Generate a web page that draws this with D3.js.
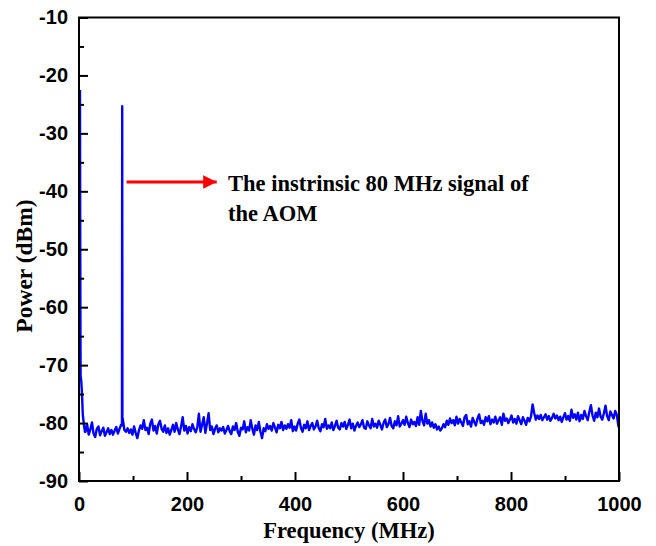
<!DOCTYPE html>
<html>
<head>
<meta charset="utf-8">
<script src="https://cdn.jsdelivr.net/npm/d3@7"></script>
<style>
html,body{margin:0;padding:0;background:#fff;}
svg{display:block;}
</style>
</head>
<body>
<svg id="chart" width="656" height="546"></svg>
<script>
// ---- data ----
const xTicks = [0, 200, 400, 600, 800, 1000];
const yTicks = [-90, -80, -70, -60, -50, -40, -30, -20, -10];
const xMinorTicks = [100, 300, 500, 700, 900];
const yMinorTicks = [-85, -75, -65, -55, -45, -35, -25, -15];

// low-frequency spike (DC) part of the trace
const dcFreq  = [1.8, 2.2, 2.6, 3, 4, 5, 6, 7, 9, 11];
const dcPower = [-22.5, -45, -62, -72, -72.5, -74, -76, -78.5, -80.2, -81.5];

// AOM 80 MHz spike
const aomFreq  = [79.6, 80, 80.4];
const aomPower = [-80.2, -25.3, -80.4];

// noise floor, sampled every 3 MHz starting at 12 MHz
const noiseStartMHz = 12;
const noiseStepMHz = 3;
const noisePower = [
-81.5,-80.2,-82.0,-81.1,-79.9,-81.8,-82.4,-81.0,-80.6,-82.1,
-81.4,-80.8,-82.2,-81.6,-80.9,-81.9,-81.2,-82.0,-81.3,-80.7,
-81.8,-81.0,-80.3,-79.2,-81.2,-81.5,-80.9,-81.7,-81.1,-82.0,
-80.6,-81.7,-82.6,-81.3,-80.4,-81.0,-79.5,-81.2,-80.8,-81.9,
-80.1,-79.4,-81.3,-80.5,-81.8,-80.2,-79.6,-81.0,-81.5,-80.4,
-81.7,-80.9,-82.0,-81.2,-80.3,-81.5,-80.0,-81.1,-81.9,-80.6,
-79.0,-81.3,-80.5,-81.8,-80.7,-81.4,-80.2,-81.0,-81.6,-80.8,
-78.4,-81.5,-80.3,-79.0,-81.7,-80.1,-78.3,-81.2,-80.6,-81.9,
-81.0,-80.4,-81.6,-80.9,-81.3,-80.7,-81.8,-81.2,-80.5,-81.4,
-81.9,-80.6,-81.2,-80.0,-81.5,-82.2,-80.8,-81.1,-79.7,-81.6,
-80.7,-81.3,-79.5,-81.0,-82.0,-80.4,-81.2,-79.8,-81.5,-82.6,
-80.9,-81.4,-80.2,-81.0,-80.5,-81.3,-80.0,-80.8,-81.6,-80.3,
-80.9,-79.8,-81.2,-80.4,-81.0,-80.2,-80.8,-79.5,-81.4,-80.6,
-81.3,-80.1,-79.4,-80.8,-81.5,-80.3,-80.9,-79.7,-81.2,-80.5,
-80.0,-81.1,-80.6,-79.6,-80.9,-81.4,-80.2,-80.7,-79.3,-81.0,
-80.4,-80.9,-79.9,-81.2,-80.5,-79.6,-80.8,-81.1,-80.0,-80.6,
-79.8,-81.0,-80.3,-79.4,-80.9,-80.1,-81.3,-80.5,-79.9,-80.7,
-80.2,-79.5,-80.8,-81.0,-79.7,-80.4,-80.9,-79.3,-80.6,-80.1,
-80.8,-79.6,-80.3,-81.1,-80.0,-79.4,-80.7,-80.2,-79.1,-80.5,
-80.9,-79.7,-80.4,-78.8,-80.6,-80.1,-79.5,-80.3,-78.9,-80.0,
-80.7,-79.4,-80.2,-79.8,-80.5,-79.0,-80.3,-77.9,-79.6,-80.4,
-78.4,-80.1,-79.5,-80.6,-79.9,-80.8,-80.2,-81.1,-80.6,-81.3,
-80.9,-80.2,-80.7,-79.6,-80.3,-79.2,-80.0,-79.5,-80.4,-78.9,
-80.1,-79.3,-79.9,-80.5,-79.0,-78.6,-80.2,-79.7,-80.6,-79.1,
-79.8,-80.4,-79.2,-78.5,-80.0,-79.6,-80.3,-79.0,-79.7,-78.8,
-80.2,-79.4,-79.9,-78.9,-80.1,-79.5,-79.0,-80.3,-78.4,-79.6,
-79.2,-80.0,-79.4,-78.7,-79.9,-79.3,-80.1,-78.8,-79.5,-80.2,
-79.0,-79.6,-80.3,-79.1,-79.7,-78.9,-76.8,-78.3,-79.4,-78.7,
-79.3,-78.6,-79.5,-79.0,-78.5,-79.4,-78.8,-79.6,-79.1,-78.4,
-79.2,-78.7,-79.5,-78.9,-79.8,-79.0,-78.3,-79.4,-78.8,-79.6,
-77.7,-79.1,-78.5,-79.4,-78.2,-79.7,-78.6,-79.3,-77.9,-78.8,
-79.5,-78.1,-76.9,-78.7,-79.6,-78.2,-79.0,-77.5,-78.9,-79.4,
-78.3,-77.0,-78.8,-79.5,-78.0,-78.6,-79.2,-77.9,-78.6,-80.6
];
const endFreq = [1000];
const endPower = [-80.3];

const annotationLines = ["The instrinsic 80 MHz signal of", "the AOM"];
const arrowFrom = {f: 88, p: -38.4};
const arrowTo = {f: 255, p: -38.4};
const xTitle = "Frequency (MHz)";
const yTitle = "Power (dBm)";

// ---- build series ----
const series = [];
dcFreq.forEach((f, i) => series.push({f, p: dcPower[i]}));
noisePower.forEach((p, i) => series.push({f: noiseStartMHz + i * noiseStepMHz, p}));
aomFreq.forEach((f, i) => series.push({f, p: aomPower[i]}));
endFreq.forEach((f, i) => series.push({f, p: endPower[i]}));
series.sort((a, b) => a.f - b.f);

// ---- layout ----
const L = 79, R = 619, T = 17.5, B = 481;
const svg = d3.select("#chart");
const x = d3.scaleLinear().domain([0, 1000]).range([L, R]);
const y = d3.scaleLinear().domain([-90, -10]).range([B, T]);

// clip
svg.append("defs").append("clipPath").attr("id", "clip")
  .append("rect").attr("x", L).attr("y", T).attr("width", R - L).attr("height", B - T);

// trace
svg.append("path")
  .datum(series)
  .attr("clip-path", "url(#clip)")
  .attr("fill", "none")
  .attr("stroke", "#0000ff")
  .attr("stroke-width", 2.4)
  .attr("stroke-linejoin", "round")
  .attr("d", d3.line().x(d => x(d.f)).y(d => y(d.p)));

const tickFont = "'Liberation Sans', Arial, sans-serif";
const serif = "'Liberation Serif', 'Times New Roman', serif";
const fmt = d => String(d);

// axes (inward ticks)
const xAxis = d3.axisBottom(x).tickValues(xTicks).tickSize(-9).tickPadding(16).tickFormat(fmt);
const gx = svg.append("g").attr("transform", `translate(0,${B})`).call(xAxis);
const yAxis = d3.axisLeft(y).tickValues(yTicks).tickSize(-9).tickPadding(11).tickFormat(fmt);
const gy = svg.append("g").attr("transform", `translate(${L},0)`).call(yAxis);
const gxm = svg.append("g").attr("transform", `translate(0,${B})`)
  .call(d3.axisBottom(x).tickValues(xMinorTicks).tickSize(-5).tickFormat(""));
const gym = svg.append("g").attr("transform", `translate(${L},0)`)
  .call(d3.axisLeft(y).tickValues(yMinorTicks).tickSize(-5).tickFormat(""));

[gx, gy, gxm, gym].forEach(g => {
  g.select(".domain").remove();
  g.selectAll(".tick line").attr("stroke", "#000").attr("stroke-width", 2);
  g.selectAll(".tick text").attr("fill", "#000")
    .style("font-family", tickFont).style("font-weight", "bold").style("font-size", "20px");
});
gx.selectAll(".tick text").attr("dy", "0.71em");

// frame
svg.append("rect").attr("x", L).attr("y", T).attr("width", R - L).attr("height", B - T)
  .attr("fill", "none").attr("stroke", "#000").attr("stroke-width", 2);

// axis titles
svg.append("text").attr("x", 349).attr("y", 538)
  .attr("text-anchor", "middle")
  .style("font-family", serif).style("font-weight", "bold").style("font-size", "22.5px")
  .text(xTitle);
svg.append("text").attr("transform", `translate(32,266) rotate(-90)`)
  .attr("text-anchor", "middle")
  .style("font-family", serif).style("font-weight", "bold").style("font-size", "23.5px")
  .text(yTitle);

// annotation arrow
svg.append("defs").append("marker").attr("id", "arrowhead")
  .attr("viewBox", "0 0 10 10").attr("refX", 10).attr("refY", 5)
  .attr("markerWidth", 4.5).attr("markerHeight", 4.5).attr("markerUnits", "strokeWidth")
  .attr("orient", "auto")
  .append("path").attr("d", "M0,0 L10,5 L0,10 z").attr("fill", "#ff0000");
svg.append("line")
  .attr("x1", x(arrowFrom.f)).attr("y1", y(arrowFrom.p))
  .attr("x2", x(arrowTo.f)).attr("y2", y(arrowTo.p))
  .attr("stroke", "#ff0000").attr("stroke-width", 3)
  .attr("marker-end", "url(#arrowhead)");

const ann = svg.append("text")
  .style("font-family", serif).style("font-weight", "bold").style("font-size", "22.5px")
  .attr("fill", "#000");
annotationLines.forEach((t, i) => {
  ann.append("tspan").attr("x", 228).attr("y", 191 + i * 30).text(t);
});
</script>
</body>
</html>
